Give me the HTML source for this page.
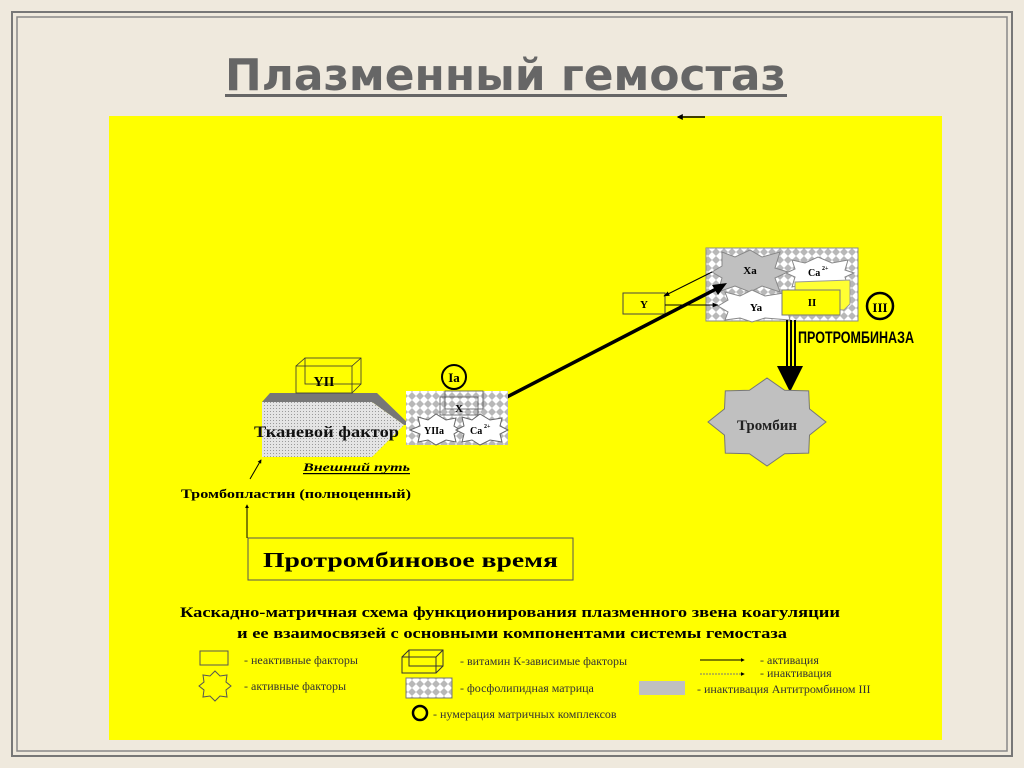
<!DOCTYPE html>
<html><head><meta charset="utf-8"><style>
html,body{margin:0;padding:0;width:1024px;height:768px;overflow:hidden;background:#efe9dd;}
svg{display:block}
text{font-family:"Liberation Serif",serif;}
</style></head><body>
<svg width="1024" height="768" viewBox="0 0 1024 768" xmlns="http://www.w3.org/2000/svg">
<defs>
<pattern id="chk" width="8" height="8" patternUnits="userSpaceOnUse">
<rect width="8" height="8" fill="#fff"/>
<polygon points="4,0 8,4 4,8 0,4" fill="#b8b8b8"/>
</pattern>
<pattern id="dots" width="3" height="3" patternUnits="userSpaceOnUse">
<rect width="3" height="3" fill="#e4e4e4"/><rect width="1" height="1" fill="#9a9a9a"/>
</pattern>
<marker id="ah" viewBox="0 0 10 10" refX="9" refY="5" markerWidth="6" markerHeight="6" orient="auto"><path d="M0,1 L10,5 L0,9 z" fill="#000"/></marker>
<marker id="ah2" viewBox="0 0 10 10" refX="8" refY="5" markerWidth="4" markerHeight="4" orient="auto"><path d="M0,0 L10,5 L0,10 z" fill="#000"/></marker>
</defs>
<rect x="0" y="0" width="1024" height="768" fill="#efe9dd"/>
<rect x="12" y="12" width="1000" height="744" fill="none" stroke="#777" stroke-width="2"/>
<rect x="17" y="17" width="990" height="734" fill="none" stroke="#888" stroke-width="1.5"/>
<text x="225" y="90" font-weight="bold" font-size="44" fill="#666" textLength="561" lengthAdjust="spacingAndGlyphs" style="font-family:'DejaVu Sans',sans-serif">Плазменный гемостаз</text>
<rect x="225" y="94" width="562" height="3" fill="#666"/>
<rect x="109" y="116" width="833" height="624" fill="#ffff00"/>
<line x1="705" y1="117" x2="678" y2="117" stroke="#000" stroke-width="1.5" marker-end="url(#ah2)"/>

<!-- prothrombinase -->
<rect x="706" y="248" width="152" height="73" fill="url(#chk)" stroke="#888"/>
<polygon points="722,252 735,257 750,250 762,257 780,252 775,268 788,272 775,278 780,292 762,286 750,292 735,286 718,292 722,278 712,272 722,266" fill="#c0c0c0" stroke="#888"/>
<text x="750" y="274" text-anchor="middle" font-size="11" font-weight="bold">Xa</text>
<polygon points="792,260 805,263 818,257 832,263 848,260 845,270 854,273 845,277 848,287 832,284 818,289 805,284 792,287 795,277 786,273 795,269" fill="#fff" stroke="#888"/>
<text x="808" y="276" font-size="10" font-weight="bold">Ca</text><text x="822" y="270" font-size="6" font-weight="bold">2+</text>
<polygon points="725,292 740,296 752,290 765,296 790,292 788,304 794,308 788,312 790,320 765,318 752,322 740,318 725,320 728,312 718,306 728,300" fill="#fff" stroke="#888"/>
<text x="756" y="311" text-anchor="middle" font-size="11" font-weight="bold">Ya</text>
<polygon points="795,282 850,280 850,304 844,310 795,308" fill="#ffff33" stroke="#999"/>
<rect x="782" y="290" width="58" height="25" fill="#ffff00" stroke="#777"/>
<text x="812" y="306" text-anchor="middle" font-size="11" font-weight="bold">II</text>
<rect x="623" y="293" width="42" height="21" fill="#ffff00" stroke="#444"/>
<text x="644" y="308" text-anchor="middle" font-size="11" font-weight="bold">Y</text>
<line x1="712" y1="272" x2="664" y2="296" stroke="#000" stroke-width="1" marker-end="url(#ah)"/>
<line x1="665" y1="305" x2="718" y2="305" stroke="#000" stroke-width="1" marker-end="url(#ah)"/>
<line x1="505" y1="398" x2="718" y2="288" stroke="#000" stroke-width="3.5"/>
<polygon points="727,283 712,285 718,295" fill="#000"/>
<circle cx="880" cy="306" r="13" fill="none" stroke="#000" stroke-width="2.5"/>
<text x="880" y="312" text-anchor="middle" font-size="13" font-weight="bold">III</text>
<text x="798" y="343" font-size="17" font-weight="bold" textLength="116" lengthAdjust="spacingAndGlyphs" style="font-family:'Liberation Sans',sans-serif">ПРОТРОМБИНАЗА</text>
<rect x="786" y="320" width="2" height="48" fill="#000"/>
<rect x="790" y="320" width="2" height="48" fill="#000"/>
<rect x="794" y="320" width="2" height="48" fill="#000"/>
<polygon points="777,366 803,366 790,392" fill="#000"/>
<polygon points="826,422 809.5,435.1 808.7,453.1 784.6,453.7 767,466 749.4,453.7 725.3,453.1 724.5,435.1 708,422 724.5,408.9 725.3,390.9 749.4,390.3 767,378 784.6,390.3 808.7,390.9 809.5,408.9" fill="#c0c0c0" stroke="#777"/>
<text x="767" y="430" text-anchor="middle" font-size="15" font-weight="bold" fill="#222">Тромбин</text>

<!-- tissue factor -->
<polygon points="270,393 377,393 410,425 404,425 372,402 262,402" fill="#777"/>
<polygon points="262,402 372,402 404,425 372,457 262,457" fill="url(#dots)"/>
<rect x="305" y="358" width="56" height="26" fill="none" stroke="#333" stroke-width="0.8"/>
<rect x="296" y="366" width="56" height="27" fill="none" stroke="#333" stroke-width="0.8"/>
<line x1="296" y1="366" x2="305" y2="358" stroke="#333" stroke-width="0.8"/>
<line x1="352" y1="366" x2="361" y2="358" stroke="#333" stroke-width="0.8"/>
<line x1="352" y1="393" x2="361" y2="384" stroke="#333" stroke-width="0.8"/>
<text x="324" y="386" text-anchor="middle" font-size="14" font-weight="bold">YII</text>
<text x="254" y="437" font-size="16" font-weight="bold" fill="#111" textLength="145" lengthAdjust="spacingAndGlyphs">Тканевой фактор</text>
<text x="303" y="471" font-size="12" font-weight="bold" font-style="italic" textLength="107" lengthAdjust="spacingAndGlyphs">Внешний путь</text>
<rect x="303" y="473" width="107" height="1.2" fill="#000"/>
<line x1="250" y1="479" x2="261" y2="460" stroke="#000" stroke-width="1" marker-end="url(#ah2)"/>
<text x="181" y="498" font-size="13" font-weight="bold" textLength="230" lengthAdjust="spacingAndGlyphs">Тромбопластин (полноценный)</text>

<!-- Ia complex -->
<rect x="406" y="391" width="102" height="54" fill="url(#chk)"/>
<rect x="445" y="391" width="38" height="18" fill="none" stroke="#555" stroke-width="0.8"/>
<rect x="440" y="397" width="38" height="18" fill="none" stroke="#555" stroke-width="0.8"/>
<text x="459" y="412" text-anchor="middle" font-size="11" font-weight="bold">X</text>
<polygon points="418,417 428,420 436,414 446,420 456,418 454,426 460,430 454,434 456,442 446,440 436,445 428,440 418,442 420,434 410,430 420,426" fill="#fff" stroke="#666"/>
<text x="434" y="434" text-anchor="middle" font-size="10" font-weight="bold">YIIa</text>
<polygon points="462,417 472,420 480,414 490,420 502,418 500,426 508,430 500,434 502,442 490,440 480,445 472,440 462,442 464,434 456,430 464,426" fill="#fff" stroke="#666"/>
<text x="470" y="434" font-size="10" font-weight="bold">Ca</text><text x="484" y="428" font-size="6" font-weight="bold">2+</text>
<circle cx="454" cy="377" r="12" fill="none" stroke="#000" stroke-width="2"/>
<text x="454" y="382" text-anchor="middle" font-size="13" font-weight="bold">Ia</text>

<!-- PT box -->
<line x1="247" y1="538" x2="247" y2="505" stroke="#000" stroke-width="1" marker-end="url(#ah2)"/>
<rect x="248" y="538" width="325" height="42" fill="#ffff00" stroke="#555" stroke-width="1"/>
<text x="263" y="567" font-size="21" font-weight="bold" textLength="295" lengthAdjust="spacingAndGlyphs">Протромбиновое время</text>

<text x="510" y="617" text-anchor="middle" font-size="15" font-weight="bold" textLength="660" lengthAdjust="spacingAndGlyphs">Каскадно-матричная схема функционирования плазменного звена коагуляции</text>
<text x="512" y="638" text-anchor="middle" font-size="15" font-weight="bold" textLength="550" lengthAdjust="spacingAndGlyphs">и ее взаимосвязей с основными компонентами системы гемостаза</text>

<!-- legend -->
<rect x="200" y="651" width="28" height="14" fill="none" stroke="#555"/>
<text x="244" y="664" font-size="12" fill="#333">-  неактивные факторы</text>
<polygon points="215,671 220,676 227,675 226,682 231,686 226,690 227,697 220,696 215,701 210,696 203,697 204,690 199,686 204,682 203,675 210,676" fill="none" stroke="#555"/>
<text x="244" y="690" font-size="12" fill="#333">-  активные факторы</text>
<rect x="409" y="650" width="34" height="16" fill="none" stroke="#333"/>
<rect x="402" y="657" width="34" height="16" fill="none" stroke="#333"/>
<line x1="402" y1="657" x2="409" y2="650" stroke="#333"/><line x1="436" y1="657" x2="443" y2="650" stroke="#333"/><line x1="436" y1="673" x2="443" y2="666" stroke="#333"/>
<text x="460" y="665" font-size="12" fill="#333">-  витамин К-зависимые факторы</text>
<rect x="406" y="678" width="46" height="20" fill="url(#chk)" stroke="#777"/>
<text x="460" y="692" font-size="12" fill="#333">-  фосфолипидная матрица</text>
<circle cx="420" cy="713" r="7" fill="none" stroke="#000" stroke-width="2.5"/>
<text x="433" y="718" font-size="12" fill="#333">- нумерация матричных комплексов</text>
<line x1="700" y1="660" x2="744" y2="660" stroke="#000" stroke-width="1" marker-end="url(#ah2)"/>
<text x="760" y="664" font-size="12" fill="#333">- активация</text>
<line x1="700" y1="674" x2="744" y2="674" stroke="#777" stroke-width="1" stroke-dasharray="2,1" marker-end="url(#ah2)"/>
<text x="760" y="677" font-size="12" fill="#333"> - инактивация</text>
<rect x="639" y="681" width="46" height="14" fill="#c0c0c0"/>
<text x="697" y="693" font-size="12" fill="#333">- инактивация Антитромбином III</text>
</svg>
</body></html>
